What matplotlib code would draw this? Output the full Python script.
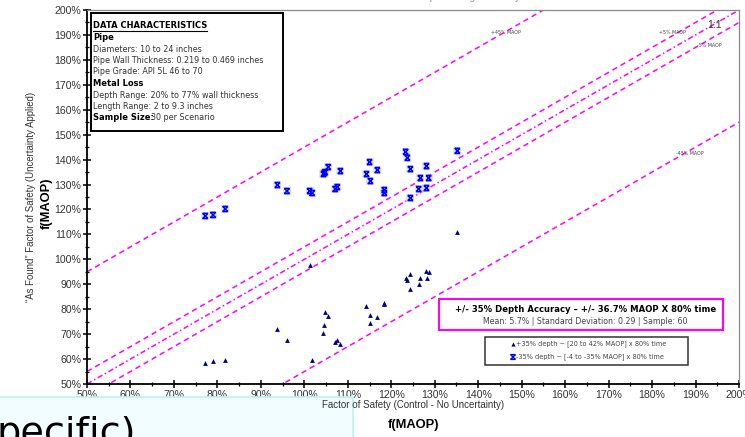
import matplotlib
matplotlib.use("Agg")
import matplotlib.pyplot as plt
from matplotlib.path import Path
from matplotlib.patches import Rectangle
from matplotlib.ticker import MultipleLocator, FuncFormatter

W, H = 745, 437

# Factor of safety, control case (no uncertainty), % of MAOP
control_plus = [77.2, 79.0, 81.8, 93.8, 96.0, 101.2, 101.8, 104.4, 104.6, 104.8,
                105.5, 107.1, 107.6, 108.3, 114.3, 115.0, 115.2, 116.8, 118.4, 118.4,
                123.3, 123.7, 124.4, 124.4, 126.3, 126.7, 128.1, 128.3, 128.6, 135.2]
# "As found" factor of safety with +35% depth error applied
found_plus = [58.4, 59.2, 59.6, 72.1, 67.6, 97.7, 59.6, 70.5, 73.7, 78.9,
              77.3, 66.8, 67.6, 66.0, 81.3, 77.7, 74.5, 76.9, 82.5, 82.1,
              92.5, 91.7, 94.1, 88.1, 90.1, 92.5, 95.3, 92.5, 94.9, 111.0]

control_minus = [77.2, 79.0, 81.8, 93.8, 96.0, 101.2, 101.8, 104.4, 104.6, 104.8,
                 105.5, 107.1, 107.6, 108.3, 114.3, 115.0, 115.2, 116.8, 118.4, 118.4,
                 123.3, 123.7, 124.4, 124.4, 126.3, 126.7, 128.1, 128.1, 128.6, 135.2]
# "As found" factor of safety with -35% depth error applied
found_minus = [117.4, 117.8, 120.2, 129.8, 127.4, 127.4, 126.6, 134.2, 134.6, 135.0,
               137.0, 128.2, 129.0, 135.4, 134.2, 139.0, 131.4, 135.8, 127.8, 126.6,
               143.1, 140.7, 136.2, 124.6, 128.2, 132.6, 137.4, 128.6, 132.6, 143.5]

# Reference band offsets (% MAOP) and their labels
band_offsets = [45, 5, 0, -5, -45]
band_labels = ["+45% MAOP", "+5% MAOP", "1:1", "-5% MAOP", "-45% MAOP"]

x_ticks = list(range(50, 201, 10))
y_ticks = list(range(50, 201, 10))

info_lines = [
    ("DATA CHARACTERISTICS", "bold_ul"),
    ("Pipe", "bold"),
    ("Diameters: 10 to 24 inches", "normal"),
    ("Pipe Wall Thickness: 0.219 to 0.469 inches", "normal"),
    ("Pipe Grade: API 5L 46 to 70", "normal"),
    ("Metal Loss", "bold"),
    ("Depth Range: 20% to 77% wall thickness", "normal"),
    ("Length Range: 2 to 9.3 inches", "normal"),
    ("Sample Size:", "sample"),
]

NARROW = ["Liberation Sans", "DejaVu Sans"]
SANS = ["DejaVu Sans"]
MAG = "#FF00FF"


def fx(px):
    return px / W


def fy(py):
    return 1 - py / H


fig = plt.figure(figsize=(W / 100, H / 100), dpi=100)
fig.patch.set_facecolor("white")

ax = fig.add_axes([fx(87), fy(384), fx(739) - fx(87), fy(10) - fy(384)])
ax.set_xlim(50, 200)
ax.set_ylim(50, 200)

# reference lines
xs = [50, 200]
styles = {45: (3.5, 2.6), 5: (3.5, 2.6), 0: (3.5, 1.8, 1.0, 1.8), -5: (3.5, 2.6), -45: (3.5, 2.6)}
for off in band_offsets:
    ax.plot(xs, [x + off for x in xs], color=MAG, lw=1.1, dashes=styles[off], zorder=2)

# line labels
lbl = dict(fontsize=3.4, color="#444", family=SANS, ha="center", va="center")
ax.text(146.3, 190.8, band_labels[0], **lbl)
ax.text(184.8, 190.8, band_labels[1], **lbl)
ax.text(194.3, 194.0, band_labels[2], fontsize=7.5, color="#333", family=NARROW,
        ha="center", va="center")
ax.text(193.1, 185.7, band_labels[3], **lbl)
ax.text(188.7, 142.3, band_labels[4], **lbl)

# hourglass-style marker for the negative-error series
hg = Path([(-1, 1), (1, 1), (-1, 1), (1, -1), (1, 1), (-1, -1), (-1, -1), (1, -1)],
          [Path.MOVETO, Path.LINETO, Path.MOVETO, Path.LINETO,
           Path.MOVETO, Path.LINETO, Path.MOVETO, Path.LINETO])

ax.scatter(control_minus, found_minus, s=26, marker="s", color="#c9d3ff", alpha=0.55,
           linewidths=0, zorder=3)
ax.scatter(control_minus, found_minus, s=14, marker=hg, facecolor="none",
           edgecolor="#0000FF", linewidths=1.1, zorder=4)
ax.scatter(control_plus, found_plus, s=12, marker="^", color="#000080",
           linewidths=0, zorder=4)

# axes styling
for side in ("left", "bottom"):
    ax.spines[side].set_color("black")
    ax.spines[side].set_linewidth(1.3)
for side in ("top", "right"):
    ax.spines[side].set_color("#8a8a8a")
    ax.spines[side].set_linewidth(0.9)

ax.xaxis.set_minor_locator(MultipleLocator(5))
ax.yaxis.set_minor_locator(MultipleLocator(5))
ax.set_xticks(x_ticks)
ax.set_yticks(y_ticks)
pct = FuncFormatter(lambda v, p: f"{v:.0f}%")
ax.xaxis.set_major_formatter(pct)
ax.yaxis.set_major_formatter(pct)
ax.tick_params(which="major", direction="inout", length=6, width=1.1, color="black",
               labelsize=7.6, labelcolor="#333")
ax.tick_params(which="minor", direction="inout", length=3, width=0.9, color="black")
ax.tick_params(axis="x", which="major", pad=1.0)
ax.tick_params(axis="y", which="major", pad=1)
ax.tick_params(top=False, right=False, which="both")
for lab in ax.get_xticklabels() + ax.get_yticklabels():
    lab.set_family(NARROW)

# chart title, mostly above the top edge
fig.text(fx(420), fy(-0.5), "As Found vs. Control: +/- 35% Depth Sizing Accuracy Scenario",
         fontsize=7.5, color="#9a9a9a", family=NARROW, ha="center", va="baseline")

# axis titles
fig.text(fx(413), fy(405), "Factor of Safety (Control - No Uncertainty)", fontsize=7.0,
         color="#333", family=NARROW, ha="center", va="center", zorder=10)
fig.text(fx(413), fy(425), "f(MAOP)", fontsize=9.3, color="black", family=NARROW,
         weight="bold", ha="center", va="center", zorder=10)
fig.text(fx(31), fy(197), "\u201cAs Found\u201d Factor of Safety (Uncertainty Applied)",
         fontsize=6.9, color="#333", family=NARROW, ha="center", va="center", rotation=90)
fig.text(fx(47), fy(203), "f(MAOP)", fontsize=9.3, color="black", family=NARROW,
         weight="bold", ha="center", va="center", rotation=90)

# data characteristics box
fig.patches.append(Rectangle((fx(91), fy(131)), fx(283) - fx(91), fy(13) - fy(131),
                             transform=fig.transFigure, facecolor="white",
                             edgecolor="black", lw=1.4, zorder=5))
y0, dy = 26.0, 11.5
for i, (txt, kind) in enumerate(info_lines):
    yy = fy(y0 + i * dy)
    if kind == "bold_ul":
        fig.text(fx(93), yy, txt, fontsize=6.0, weight="bold", family=SANS,
                 va="center", color="black", zorder=6)
        fig.lines.append(plt.Line2D([fx(93), fx(207)], [fy(y0 + 4.8), fy(y0 + 4.8)],
                                    transform=fig.transFigure, color="black", lw=0.8, zorder=6))
    elif kind == "bold":
        fig.text(fx(93), yy, txt, fontsize=6.0, weight="bold", family=SANS,
                 va="center", color="black", zorder=6)
    elif kind == "sample":
        fig.text(fx(93), yy, txt, fontsize=6.0, weight="bold", family=SANS,
                 va="center", color="black", zorder=6)
        fig.text(fx(151), yy, "30 per Scenario", fontsize=5.75, family=SANS,
                 va="center", color="#333", zorder=6)
    else:
        fig.text(fx(93), yy, txt, fontsize=5.75, family=SANS, va="center",
                 color="#333", zorder=6)

# accuracy summary box
fig.patches.append(Rectangle((fx(439), fy(330)), fx(723) - fx(439), fy(299) - fy(330),
                             transform=fig.transFigure, facecolor="white",
                             edgecolor=MAG, lw=1.5, zorder=5))
fig.text(fx(586), fy(309.5), "+/- 35% Depth Accuracy \u2013 +/- 36.7% MAOP X 80% time",
         fontsize=6.1, weight="bold", family=SANS, ha="center", va="center",
         color="black", zorder=6)
fig.text(fx(585), fy(321), "Mean: 5.7% | Standard Deviation: 0.29 | Sample: 60",
         fontsize=5.7, family=SANS, ha="center", va="center", color="#444", zorder=6)

# legend box
fig.patches.append(Rectangle((fx(485), fy(365)), fx(688) - fx(485), fy(337) - fy(365),
                             transform=fig.transFigure, facecolor="white",
                             edgecolor="#333", lw=1.1, zorder=5))
lax = fig.add_axes([fx(485), fy(365), fx(688) - fx(485), fy(337) - fy(365)], zorder=7)
lax.set_xlim(485, 688)
lax.set_ylim(365, 337)
lax.axis("off")
lax.scatter([513], [343.5], s=9, marker="^", color="#000080", linewidths=0)
lax.scatter([513], [357], s=12, marker=hg, facecolor="none", edgecolor="#0000FF",
            linewidths=1.0)
lax.text(516, 343.5, "+35% depth ~ [20 to 42% MAOP] x 80% time", fontsize=4.7,
         family=SANS, va="center", color="#444")
lax.text(516, 357, "-35% depth ~ [-4 to -35% MAOP] x 80% time", fontsize=4.7,
         family=SANS, va="center", color="#444")

# overlapping slide caption at the lower left
fig.patches.append(Rectangle((fx(-2), fy(440)), fx(353) + 2 / W, fy(397) - fy(440),
                             transform=fig.transFigure, facecolor="#F2FDFF",
                             edgecolor="#BDF1F8", lw=1.2, zorder=8))
fig.text(fx(-3), fy(444), "pecific)", fontsize=27.5, family=SANS, color="black",
         va="baseline", ha="left", zorder=9)

fig.savefig("out.png", dpi=100, facecolor="white")
